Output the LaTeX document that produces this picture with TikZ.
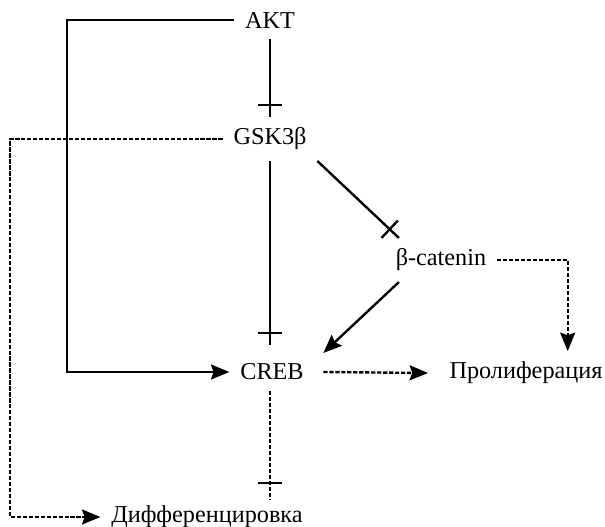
\documentclass[tikz,border=0pt]{standalone}
\usepackage{fontspec}
\setmainfont{Liberation Serif}
\usetikzlibrary{arrows.meta,decorations.markings}

\begin{document}
\begin{tikzpicture}[x=0.02cm,y=-0.02cm,
  every node/.style={inner sep=6pt,font=\fontsize{13.8}{16}\selectfont},
  link/.style={line width=1.35pt},
  dotlink/.style={line width=1.35pt,dash pattern=on 2.4pt off 1pt},
  act/.style={-{Stealth[length=10.5pt,width=8.5pt,inset=1.5pt]}},
  inhib/.style={decoration={markings,mark=at position #1 with {\draw[solid,line width=1.35pt] (0,-6.8pt) -- (0,6.8pt);}},postaction=decorate}]
\useasboundingbox (0,0) rectangle (605,527);

\node (akt) at (270,20) {AKT};
\node (gsk) at (270,139) {GSK3β};
\node (bcat) at (441,260) {β-catenin};
\node (creb) at (272,372) {CREB};
\node (prolif) at (526,373) {Пролиферация};
\node (diff) at (207,517) {Дифференцировка};
\coordinate (aktloop) at (67,0);
\coordinate (gskloop) at (10,0);

\draw[link,inhib=-6.8pt] (akt.south) -- (gsk.north);
\draw[link,inhib=-6.8pt] (gsk.south) -- ([yshift=4.5pt]gsk.south |- creb.north);
\draw[link,inhib=-7.2pt] (gsk.south east) -- ([xshift=8pt]bcat.north west);
\draw[link,act] ([xshift=8pt]bcat.south west) -- ([xshift=5pt]creb.north east);
\draw[link,act] (akt.west) -| (aktloop |- creb.west) -- (creb.west);

\draw[dotlink,act] (gsk.west) -| (gskloop |- diff.west) -- (diff.west);
\draw[dotlink,act] (bcat.east) -| ([xshift=-26pt]prolif.north east);
\draw[dotlink,act] ([xshift=5pt]creb.east) -- ([xshift=-6pt]prolif.west);
\draw[dotlink,inhib=-10pt] (gsk.south |- creb.south) -- ([yshift=-3pt]gsk.south |- diff.north);
\end{tikzpicture}
\end{document}
